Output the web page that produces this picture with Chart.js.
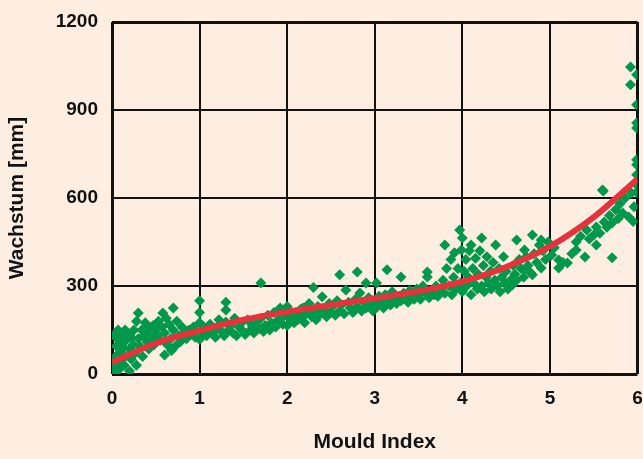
<!DOCTYPE html>
<html>
<head>
<meta charset="utf-8">
<script src="https://cdn.jsdelivr.net/npm/chart.js@4/dist/chart.umd.min.js"></script>
<style>
  html, body { margin: 0; padding: 0; background: #fdeee1; }
  canvas { display: block; }
</style>
</head>
<body>
<canvas id="chart" width="643" height="459"></canvas>
<script>
const mouldIndex = [
  0.02, 0.03, 0.04, 0.05, 0.06, 0.03, 0.08, 0.09, 0.10, 0.10,
  0.12, 0.13, 0.14, 0.15, 0.16, 0.18, 0.20, 0.20, 0.22, 0.22,
  0.24, 0.25, 0.26, 0.28, 0.28, 0.30, 0.30, 0.32, 0.34, 0.35,
  0.36, 0.38, 0.40, 0.40, 0.42, 0.44, 0.45, 0.47, 0.48, 0.50,
  0.52, 0.53, 0.55, 0.57, 0.58, 0.60, 0.60, 0.62, 0.63, 0.65,
  0.67, 0.68, 0.70, 0.70, 0.72, 0.74, 0.76, 0.78, 0.80, 0.82,
  0.85, 0.88, 0.90, 0.93, 0.95, 1.00, 1.00, 1.00, 1.00, 1.03,
  1.05, 1.08, 1.10, 1.12, 1.15, 1.18, 1.20, 1.22, 1.25, 1.28,
  1.30, 1.30, 1.30, 1.33, 1.35, 1.38, 1.40, 1.42, 1.45, 1.48,
  1.50, 1.52, 1.55, 1.58, 1.60, 0.05, 0.07, 0.15, 0.18, 0.08,
  1.62, 1.65, 1.68, 1.70, 1.70, 1.73, 1.75, 1.78, 1.80, 1.82,
  1.85, 1.87, 1.90, 1.92, 1.95, 1.97, 2.00, 2.00, 2.03, 2.05,
  2.08, 2.10, 2.12, 2.15, 2.18, 2.20, 2.22, 2.25, 2.28, 2.30,
  2.30, 2.33, 2.35, 2.38, 2.40, 2.42, 2.45, 2.48, 2.50, 2.18,
  2.52, 2.55, 2.57, 2.60, 2.60, 2.62, 2.65, 2.67, 2.70, 2.72,
  2.75, 2.78, 2.80, 2.80, 2.83, 2.85, 2.88, 2.90, 2.90, 2.93,
  2.95, 2.98, 3.00, 3.02, 3.03, 3.05, 3.08, 3.10, 3.12, 3.14,
  3.15, 3.18, 3.20, 3.22, 3.25, 3.28, 3.30, 3.30, 3.33, 3.35,
  3.38, 3.40, 3.42, 3.45, 3.48, 3.50, 3.52, 3.55, 3.58, 3.60,
  3.60, 3.62, 3.65, 3.68, 3.70, 3.72, 3.75, 3.78, 3.80, 3.80,
  3.82, 3.85, 3.87, 3.88, 3.90, 3.91, 3.93, 3.95, 3.97, 3.98,
  3.99, 4.00, 4.00, 4.02, 4.04, 4.05, 4.07, 4.08, 4.10, 4.10,
  4.12, 4.13, 4.15, 4.17, 4.18, 4.20, 4.22, 4.22, 4.24, 4.25,
  4.27, 4.28, 4.30, 4.32, 4.33, 4.35, 4.37, 4.38, 4.40, 4.42,
  4.43, 4.45, 4.47, 4.48, 4.50, 4.52, 4.55, 4.57, 4.58, 4.60,
  4.62, 4.62, 4.65, 4.67, 4.70, 4.71, 4.71, 4.73, 4.75, 4.78,
  4.80, 4.80, 4.82, 4.85, 4.88, 4.90, 4.90, 4.92, 4.95, 4.98,
  5.02, 5.05, 5.10, 5.10, 5.15, 5.20, 5.25, 5.30, 5.30, 5.35,
  5.40, 5.42, 5.45, 5.50, 5.53, 5.53, 5.57, 5.60, 5.61, 5.62,
  5.65, 5.68, 5.71, 5.71, 5.75, 5.78, 5.80, 5.83, 5.86, 5.90,
  5.92, 5.92, 5.93, 5.96, 5.97, 5.99, 5.99, 5.99, 5.99, 5.99,
  5.99, 5.99, 5.95, 5.99
];
const growth = [
  5, 30, 60, 95, 120, 130, 15, 45, 75, 110,
  135, 90, 30, 60, 115, 140, 10, 85, 50, 125,
  100, 150, 70, 30, 180, 208, 120, 95, 150, 60,
  130, 175, 110, 155, 85, 140, 120, 165, 100, 150,
  130, 180, 115, 160, 208, 140, 65, 190, 100, 170,
  120, 80, 225, 150, 95, 180, 130, 110, 160, 140,
  120, 150, 135, 160, 125, 118, 175, 210, 250, 140,
  160, 130, 150, 170, 140, 125, 160, 185, 145, 130,
  177, 218, 245, 150, 165, 140, 190, 130, 160, 175,
  145, 135, 185, 150, 165, 140, 150, 150, 130, 100,
  140, 175, 155, 310, 190, 145, 165, 200, 150, 175,
  210, 160, 185, 225, 170, 200, 165, 230, 190, 210,
  175, 200, 185, 220, 195, 175, 210, 240, 195, 295,
  215, 185, 230, 205, 263, 220, 195, 240, 210, 225,
  230, 200, 250, 338, 215, 235, 205, 286, 245, 225,
  210, 255, 348, 230, 276, 215, 245, 310, 225, 260,
  235, 215, 250, 310, 230, 265, 240, 225, 270, 355,
  250, 235, 280, 255, 240, 265, 331, 250, 275, 260,
  245, 285, 265, 255, 290, 270, 255, 300, 275, 348,
  331, 260, 285, 270, 300, 265, 290, 320, 440, 275,
  360, 300, 390, 270, 330, 413, 290, 360, 491, 310,
  423, 464, 280, 350, 390, 300, 330, 420, 440, 270,
  360, 310, 395, 290, 340, 420, 464, 300, 370, 280,
  330, 400, 310, 350, 290, 380, 320, 440, 300, 360,
  280, 330, 400, 310, 350, 290, 320, 303, 370, 340,
  320, 457, 390, 360, 330, 423, 355, 400, 370, 345,
  474, 338, 410, 380, 440, 457, 361, 420, 390, 450,
  406, 430, 389, 361, 380, 378, 410, 450, 423, 470,
  399, 491, 460, 474, 501, 440, 480, 627, 624, 518,
  500, 540, 515, 396, 560, 530, 580, 549, 600, 535,
  1047, 986, 617, 570, 650, 1020, 918, 856, 839, 730,
  713, 679, 520, 620
];

// fitted trend curve
const fitX = [0, 0.5, 1, 1.5, 2, 2.5, 3, 3.5, 4, 4.5, 5, 5.5, 6];
const fitY = [40, 105, 148, 185, 212, 235, 258, 282, 315, 365, 435, 535, 665];

const xTicks = [0, 1, 2, 3, 4, 5, 6];
const yTicks = [0, 300, 600, 900, 1200];

const ink = '#111111';
const tickFont = { family: 'Liberation Sans, Arial, sans-serif', size: 19, weight: 'bold' };
const titleFont = { family: 'Liberation Sans, Arial, sans-serif', size: 21, weight: 'bold' };

new Chart(document.getElementById('chart'), {
  type: 'scatter',
  data: {
    datasets: [
      {
        type: 'line',
        data: fitX.map((x, i) => ({ x, y: fitY[i] })),
        borderColor: '#e5323b',
        borderWidth: 6,
        pointRadius: 0,
        cubicInterpolationMode: 'monotone',
        order: 0,
        clip: 0
      },
      {
        data: mouldIndex.map((x, i) => ({ x, y: growth[i] })),
        pointStyle: 'rectRot',
        pointRadius: 5.5,
        backgroundColor: '#00984a',
        borderWidth: 0,
        order: 1,
        clip: 0
      }
    ]
  },
  options: {
    responsive: false,
    animation: false,
    devicePixelRatio: 1,
    layout: { padding: { top: 22, right: 5, left: 0, bottom: 0 } },
    plugins: { legend: { display: false }, tooltip: { enabled: false } },
    scales: {
      x: {
        type: 'linear',
        min: 0,
        max: 6,
        afterFit: s => { s.height = 85; s.paddingLeft = 0; s.paddingRight = 0 },
        afterBuildTicks: s => { s.ticks = xTicks.map(v => ({ value: v })) },
        grid: {
          color: ink,
          lineWidth: c => (c.tick.value === 0 || c.tick.value === 6) ? 3 : 2,
          drawTicks: false
        },
        border: { display: false },
        ticks: { color: ink, font: tickFont, padding: 13, maxRotation: 0, callback: v => String(v) },
        title: { display: true, text: 'Mould Index', color: ink, font: titleFont, padding: { top: 4, bottom: 4 } }
      },
      y: {
        type: 'linear',
        min: 0,
        max: 1200,
        afterFit: s => { s.width = 112; s.paddingTop = 0; s.paddingBottom = 0 },
        afterBuildTicks: s => { s.ticks = yTicks.map(v => ({ value: v })) },
        grid: {
          color: ink,
          lineWidth: c => (c.tick.value === 0 || c.tick.value === 1200) ? 3 : 2,
          drawTicks: false
        },
        border: { display: false },
        ticks: { color: ink, font: tickFont, padding: 14, callback: v => String(v) },
        title: { display: true, text: 'Wachstum [mm]', color: ink, font: titleFont, padding: { top: 5, bottom: 5 } }
      }
    }
  }
});
</script>
</body>
</html>
